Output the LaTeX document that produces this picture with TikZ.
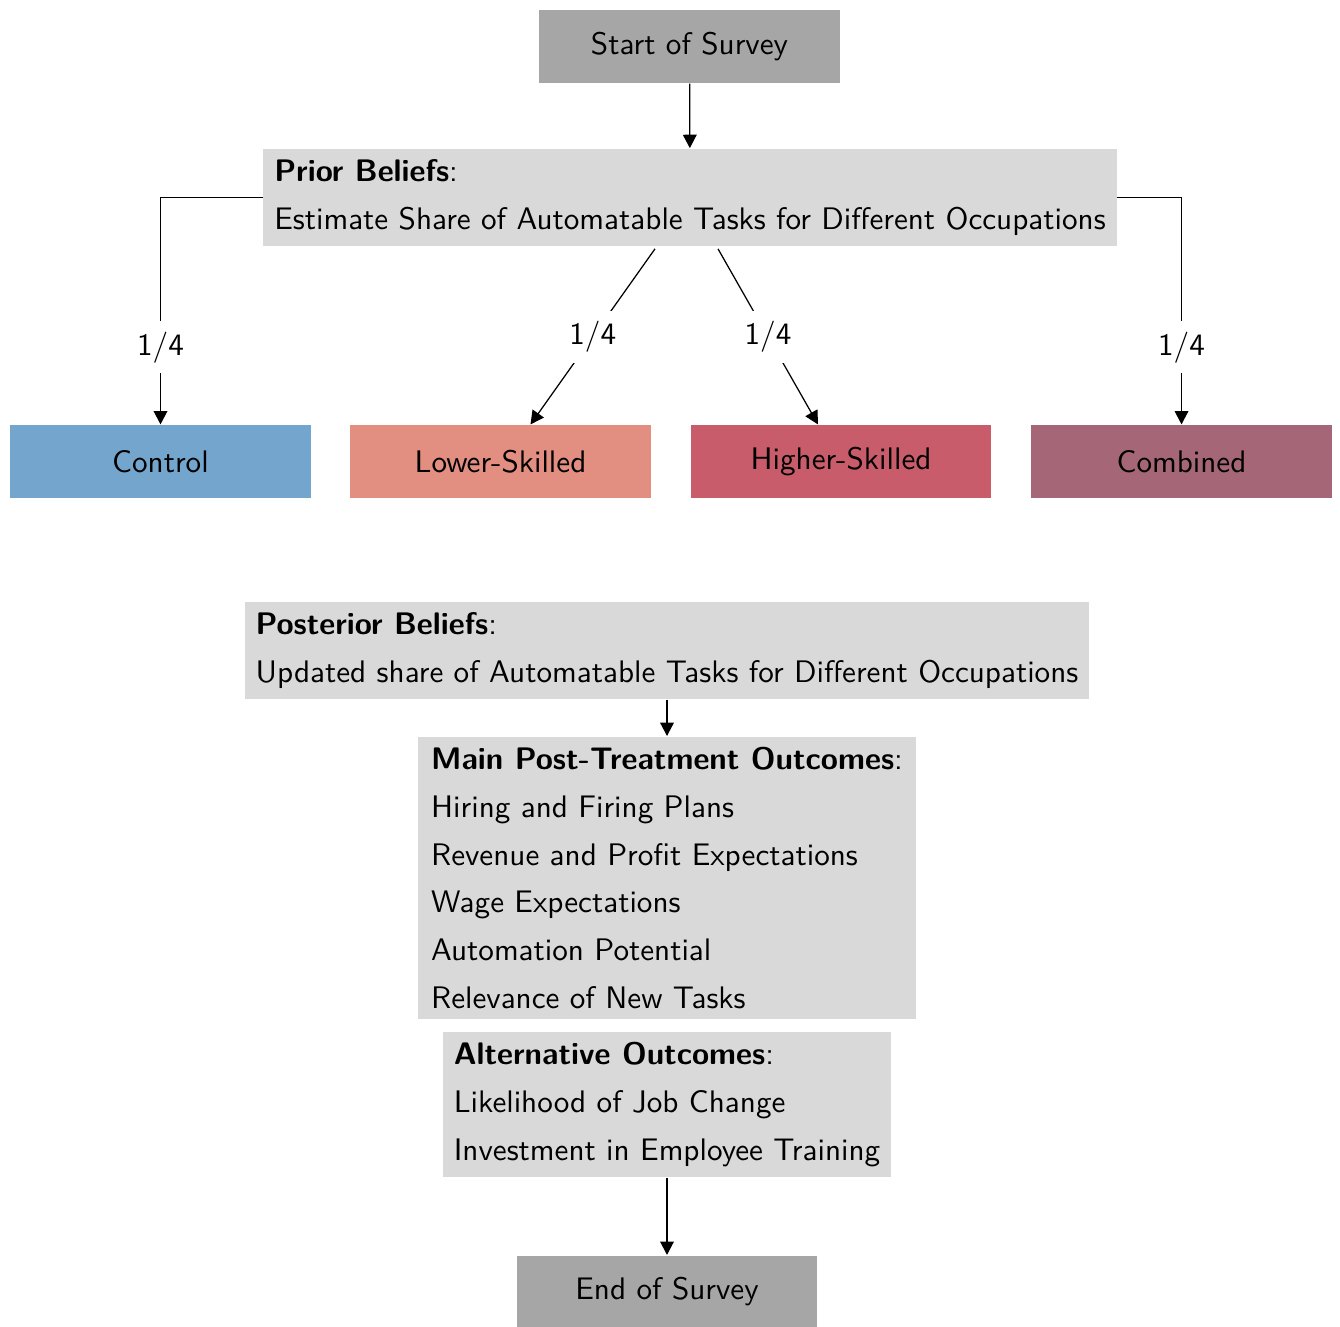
\documentclass[tikz,border=0pt]{standalone}
\usetikzlibrary{arrows.meta,calc}
\definecolor{termgray}{RGB}{166,166,166}
\definecolor{infogray}{RGB}{217,217,217}
\definecolor{ctrlblue}{RGB}{116,166,205}
\definecolor{lowred}{RGB}{226,142,128}
\definecolor{highred}{RGB}{201,92,106}
\definecolor{combmauve}{RGB}{165,103,119}
\begin{document}
\begin{tikzpicture}[x=0.321pt,y=-0.321pt,font=\sffamily,
  term/.style={rectangle,fill=termgray,minimum width=96.6pt,minimum height=23.4pt},
  treat/.style={rectangle,minimum width=96.6pt,minimum height=23.4pt},
  info/.style={rectangle,fill=infogray,align=left,inner sep=3.5pt},
  arr/.style={-{Triangle[length=4.3pt,width=4.4pt]}},
  frac/.style={fill=white}]
\useasboundingbox (0,0) rectangle (1340,1327);
\node[term] (start) at (689.5,46.5) {Start of Survey};
\node[info] (prior) at (690,197.5) {\textbf{Prior Beliefs}:\\[3.3pt]Estimate Share of Automatable Tasks for Different Occupations};
\node[treat,fill=ctrlblue] (control) at (160.5,461.5) {Control};
\node[treat,fill=lowred] (lower) at (500.5,461.5) {Lower-Skilled};
\node[treat,fill=highred] (higher) at (841,461.5) {Higher-Skilled};
\node[treat,fill=combmauve] (comb) at (1181.5,461.5) {Combined};
\node[info] (post) at (667,650.5) {\textbf{Posterior Beliefs}:\\[3.3pt]Updated share of Automatable Tasks for Different Occupations};
\node[info,inner xsep=4.2pt] (main) at (667,878) {\textbf{Main Post-Treatment Outcomes}:\\[3.3pt]Hiring and Firing Plans\\[3.3pt]Revenue and Profit Expectations\\[3.3pt]Wage Expectations\\[3.3pt]Automation Potential\\[3.3pt]Relevance of New Tasks};
\node[info] (alt) at (667,1104.5) {\textbf{Alternative Outcomes}:\\[3.3pt]Likelihood of Job Change\\[3.3pt]Investment in Employee Training};
\node[term] (end) at (667,1292) {End of Survey};
\draw[arr] (start) -- (prior);
\draw[arr] (prior.west) -| node[frac,pos=0.83]{1/4} (control.north);
\draw[arr] (prior.east) -| node[frac,pos=0.83]{1/4} (comb.north);
\draw[arr] ($(prior.south)+(-35,2)$) -- node[frac]{1/4} ($(lower.north)+(30,0)$);
\draw[arr] ($(prior.south)+(28,2)$) -- node[frac]{1/4} ($(higher.north)+(-23,0)$);
\draw[arr] (post) -- (main);
\draw[arr] (alt) -- (end);
\end{tikzpicture}
\end{document}
